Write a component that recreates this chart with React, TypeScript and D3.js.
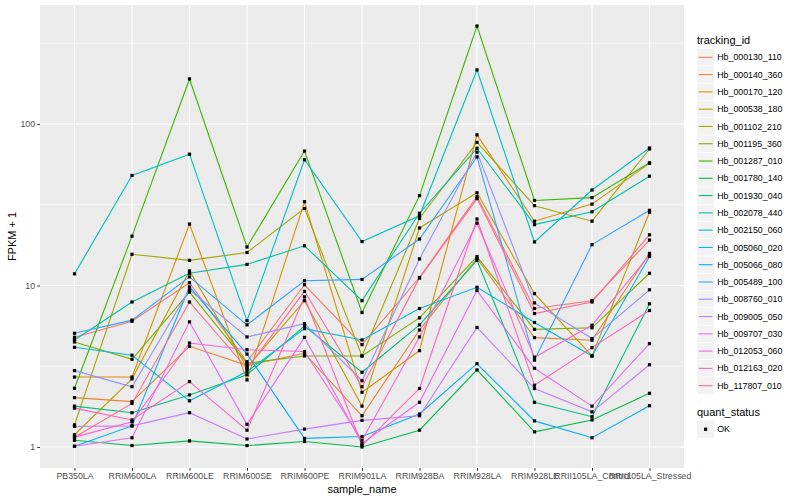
import { useEffect, useRef } from "react";
import * as d3 from "d3";

const categories = [
    "PB350LA", "RRIM600LA", "RRIM600LE", "RRIM600SE", "RRIM600PE", "RRIM901LA",
    "RRIM928BA", "RRIM928LA", "RRIM928LE", "RRII105LA_Control", "RRII105LA_Stressed",
];

const yTicks = [ 1, 10, 100 ];

// FPKM + 1 per sample
const hb000130_110 = [ 4.78, 6.0, 10.4, 3.37, 10.1, 4.3, 11.2, 35.5, 7.2, 8.05, 19.1 ];
const hb000140_360 = [ 2.02, 1.91, 4.2, 3.2, 3.8, 1.56, 5.3, 14.7, 4.75, 4.58, 15.8 ];
const hb000170_120 = [ 2.71, 2.71, 24, 2.6, 33, 2.18, 3.95, 85.6, 25, 31.9, 57 ];
const hb000538_180 = [ 1.19, 2.64, 12.3, 3.1, 8.05, 1.79, 22.7, 37.5, 8.9, 3.66, 28.4 ];
const hb001102_210 = [ 1.37, 15.6, 14.3, 16, 30, 3.66, 26, 77, 31.2, 25, 70 ];
const hb001195_360 = [ 4.47, 3.49, 9.1, 3.3, 3.66, 3.66, 6.3, 15.1, 5.35, 5.47, 11.9 ];
const hb001287_010 = [ 2.31, 20.2, 190, 17.3, 68, 6.8, 36, 404, 33.6, 35, 57.5 ];
const hb001780_140 = [ 1.10, 1.02, 1.09, 1.02, 1.08, 1.0, 1.27, 3.0, 1.24, 1.47, 2.15 ];
const hb001930_040 = [ 1.79, 1.63, 2.1, 2.8, 5.6, 2.9, 5.7, 14.3, 1.89, 1.54, 7.7 ];
const hb002078_440 = [ 4.6, 7.9, 11.9, 13.5, 17.6, 8.05, 28, 70.7, 23.8, 28.6, 47.5 ];
const hb002150_060 = [ 11.8, 48, 65, 6.05, 60, 18.7, 27, 216, 18.6, 39, 71 ];
const hb005060_020 = [ 4.14, 3.7, 1.93, 2.93, 5.4, 4.6, 7.2, 9.75, 5.9, 3.66, 15.1 ];
const hb005066_080 = [ 1.01, 1.35, 9.8, 3.76, 1.13, 1.16, 1.6, 3.28, 1.45, 1.14, 1.8 ];
const hb005489_100 = [ 5.06, 6.1, 11.3, 5.7, 10.7, 10.9, 19.4, 62.5, 3.45, 17.9, 29.2 ];
const hb008760_010 = [ 2.97, 2.36, 9.4, 4.8, 5.8, 2.57, 14.6, 67, 7.8, 4.69, 9.4 ];
const hb009005_050 = [ 1.34, 1.35, 1.63, 1.12, 1.29, 1.46, 1.56, 5.5, 2.3, 1.65, 3.23 ];
const hb009707_030 = [ 1.01, 1.14, 5.95, 1.38, 4.77, 1.05, 1.89, 9.3, 3.07, 1.79, 4.36 ];
const hb012053_060 = [ 1.15, 1.43, 4.4, 4.0, 3.9, 1.1, 4.8, 24.3, 3.6, 5.67, 15.4 ];
const hb012163_020 = [ 1.74, 1.47, 2.54, 1.27, 8.5, 1.02, 2.3, 25.8, 2.41, 4.12, 7.0 ];
const hb117807_010 = [ 1.15, 1.86, 7.9, 3.05, 9.2, 2.36, 11.1, 34.5, 6.7, 7.9, 20.6 ];

const series = [
    { id: "Hb_000130_110", values: hb000130_110 },
    { id: "Hb_000140_360", values: hb000140_360 },
    { id: "Hb_000170_120", values: hb000170_120 },
    { id: "Hb_000538_180", values: hb000538_180 },
    { id: "Hb_001102_210", values: hb001102_210 },
    { id: "Hb_001195_360", values: hb001195_360 },
    { id: "Hb_001287_010", values: hb001287_010 },
    { id: "Hb_001780_140", values: hb001780_140 },
    { id: "Hb_001930_040", values: hb001930_040 },
    { id: "Hb_002078_440", values: hb002078_440 },
    { id: "Hb_002150_060", values: hb002150_060 },
    { id: "Hb_005060_020", values: hb005060_020 },
    { id: "Hb_005066_080", values: hb005066_080 },
    { id: "Hb_005489_100", values: hb005489_100 },
    { id: "Hb_008760_010", values: hb008760_010 },
    { id: "Hb_009005_050", values: hb009005_050 },
    { id: "Hb_009707_030", values: hb009707_030 },
    { id: "Hb_012053_060", values: hb012053_060 },
    { id: "Hb_012163_020", values: hb012163_020 },
    { id: "Hb_117807_010", values: hb117807_010 },
];

const FONT = "'Liberation Sans', Arial, Helvetica, sans-serif";

// R's hcl() (polar LUV) -> hex, like ggplot's hue palette
function hclHex ( h: number, c = 100, l = 65 )
{
    const hr = h * Math.PI / 180;
    const U = c * Math.cos( hr ), V = c * Math.sin( hr );
    const Xn = 95.047, Yn = 100, Zn = 108.883;
    const t = Xn + 15 * Yn + 3 * Zn;
    const un = 4 * Xn / t, vn = 9 * Yn / t;
    const Y = Yn * Math.pow( ( l + 16 ) / 116, 3 );
    const u = U / ( 13 * l ) + un, v = V / ( 13 * l ) + vn;
    const X = 9 * Y * u / ( 4 * v );
    const Z = -X / 3 - 5 * Y + 3 * Y / v;
    const x = X / 100, y = Y / 100, z = Z / 100;
    const lin = [
        3.240479 * x - 1.537150 * y - 0.498535 * z,
        -0.969256 * x + 1.875992 * y + 0.041556 * z,
        0.055648 * x - 0.204043 * y + 1.057311 * z,
    ];
    const g = lin.map( ( q ) =>
    {
        const s = q <= 0.0031308 ? 12.92 * q : 1.055 * Math.pow( q, 1 / 2.4 ) - 0.055;
        return Math.round( Math.max( 0, Math.min( 1, s ) ) * 255 );
    } );
    return d3.rgb( g[ 0 ], g[ 1 ], g[ 2 ] ).formatHex();
}

export default function App ()
{
    const svgRef = useRef<SVGSVGElement>( null );

    useEffect( () =>
    {
        document.body.style.margin = "0";
        if ( !svgRef.current ) return;
        const svg = d3.select( svgRef.current );
        svg.selectAll( "*" ).remove();

        const W = 800, H = 500;
        const m = { top: 5, right: 116, bottom: 32, left: 40 };
        const pw = W - m.left - m.right;
        const ph = H - m.top - m.bottom;

        svg.append( "rect" ).attr( "width", W ).attr( "height", H ).attr( "fill", "#fff" );

        const n = series.length;
        const colors = series.map( ( _, i ) => hclHex( 15 + ( 360 / n ) * i ) );

        const x = d3.scalePoint<string>().domain( categories ).range( [ 0, pw ] ).padding( 0.6 );

        const all = series.flatMap( ( s ) => s.values );
        const lmin = Math.log10( d3.min( all )! ), lmax = Math.log10( d3.max( all )! );
        const ex = ( lmax - lmin ) * 0.05;
        const y = d3.scaleLog().domain( [ Math.pow( 10, lmin - ex ), Math.pow( 10, lmax + ex ) ] ).range( [ ph, 0 ] );

        const g = svg.append( "g" ).attr( "transform", `translate(${ m.left },${ m.top })` );

        // Panel + grid
        g.append( "rect" ).attr( "width", pw ).attr( "height", ph ).attr( "fill", "#EBEBEB" );
        const minor = [ 0.5, 1.5, 2.5 ].map( ( p ) => Math.pow( 10, p ) );
        g.append( "g" ).selectAll( "line" ).data( minor ).join( "line" )
            .attr( "x1", 0 ).attr( "x2", pw ).attr( "y1", ( d ) => y( d ) ).attr( "y2", ( d ) => y( d ) )
            .attr( "stroke", "#fff" ).attr( "stroke-width", 0.55 );
        g.append( "g" ).selectAll( "line" ).data( yTicks ).join( "line" )
            .attr( "x1", 0 ).attr( "x2", pw ).attr( "y1", ( d ) => y( d ) ).attr( "y2", ( d ) => y( d ) )
            .attr( "stroke", "#fff" ).attr( "stroke-width", 1.1 );
        g.append( "g" ).selectAll( "line" ).data( categories ).join( "line" )
            .attr( "x1", ( d ) => x( d )! ).attr( "x2", ( d ) => x( d )! ).attr( "y1", 0 ).attr( "y2", ph )
            .attr( "stroke", "#fff" ).attr( "stroke-width", 1.1 );

        // Lines
        const line = d3.line<number>().x( ( _, i ) => x( categories[ i ] )! ).y( ( d ) => y( d ) );
        g.append( "g" ).selectAll( "path" ).data( series ).join( "path" )
            .attr( "d", ( s ) => line( s.values ) )
            .attr( "fill", "none" ).attr( "stroke", ( _, i ) => colors[ i ] ).attr( "stroke-width", 1.1 );

        // Points
        const pts = series.flatMap( ( s ) => s.values.map( ( v, i ) => ( { c: categories[ i ], v } ) ) );
        g.append( "g" ).selectAll( "rect" ).data( pts ).join( "rect" )
            .attr( "x", ( d ) => x( d.c )! - 1.6 ).attr( "y", ( d ) => y( d.v ) - 1.6 )
            .attr( "width", 3.2 ).attr( "height", 3.2 ).attr( "fill", "#000" );

        // Axes
        const axisText = ( sel: any ) => sel.attr( "fill", "#4D4D4D" ).style( "font-size", "8.8px" ).style( "font-family", FONT );
        g.append( "g" ).attr( "transform", `translate(0,${ ph })` )
            .call( d3.axisBottom( x ).tickSize( 2.75 ).tickPadding( 2.2 ) )
            .call( ( a ) => a.select( ".domain" ).remove() )
            .call( ( a ) => a.selectAll( "line" ).attr( "stroke", "#333" ) )
            .selectAll( "text" ).call( axisText );
        g.append( "g" )
            .call( d3.axisLeft( y ).tickValues( yTicks ).tickSize( 2.75 ).tickPadding( 2.2 ).tickFormat( ( d ) => d3.format( "d" )( d as number ) ) )
            .call( ( a ) => a.select( ".domain" ).remove() )
            .call( ( a ) => a.selectAll( "line" ).attr( "stroke", "#333" ) )
            .selectAll( "text" ).call( axisText );

        svg.append( "text" ).attr( "x", m.left + pw / 2 ).attr( "y", 493 ).attr( "text-anchor", "middle" )
            .style( "font-size", "11px" ).style( "font-family", FONT ).attr( "fill", "#000" ).text( "sample_name" );
        svg.append( "text" ).attr( "transform", `translate(16,${ m.top + ph / 2 }) rotate(-90)` ).attr( "text-anchor", "middle" )
            .style( "font-size", "11px" ).style( "font-family", FONT ).attr( "fill", "#000" ).text( "FPKM + 1" );

        // Legend: tracking_id
        const lx = 697, key = 17.28, ly0 = 48.7;
        const legend = svg.append( "g" );
        legend.append( "text" ).attr( "x", lx ).attr( "y", 44 )
            .style( "font-size", "11px" ).style( "font-family", FONT ).text( "tracking_id" );
        series.forEach( ( s, i ) =>
        {
            const yy = ly0 + i * key;
            legend.append( "rect" ).attr( "x", lx ).attr( "y", yy ).attr( "width", key ).attr( "height", key )
                .attr( "fill", "#F2F2F2" ).attr( "stroke", "#fff" ).attr( "stroke-width", 0.5 );
            legend.append( "line" ).attr( "x1", lx + 1.7 ).attr( "x2", lx + key - 1.7 )
                .attr( "y1", yy + key / 2 ).attr( "y2", yy + key / 2 )
                .attr( "stroke", colors[ i ] ).attr( "stroke-width", 1.1 );
            legend.append( "text" ).attr( "x", lx + key + 3 ).attr( "y", yy + key / 2 ).attr( "dy", "0.35em" )
                .style( "font-size", "8.8px" ).style( "font-family", FONT ).attr( "fill", "#000" ).text( s.id );
        } );

        // Legend: quant_status
        legend.append( "text" ).attr( "x", lx ).attr( "y", 416 )
            .style( "font-size", "11px" ).style( "font-family", FONT ).text( "quant_status" );
        legend.append( "rect" ).attr( "x", lx ).attr( "y", 420.6 ).attr( "width", key ).attr( "height", key )
            .attr( "fill", "#F2F2F2" );
        legend.append( "rect" ).attr( "x", lx + key / 2 - 1.6 ).attr( "y", 420.6 + key / 2 - 1.6 )
            .attr( "width", 3.2 ).attr( "height", 3.2 ).attr( "fill", "#000" );
        legend.append( "text" ).attr( "x", lx + key + 3 ).attr( "y", 420.6 + key / 2 ).attr( "dy", "0.35em" )
            .style( "font-size", "8.8px" ).style( "font-family", FONT ).text( "OK" );
    }, [] );

    return <svg ref={ svgRef } width={ 800 } height={ 500 } style={ { display: "block" } } />;
}
